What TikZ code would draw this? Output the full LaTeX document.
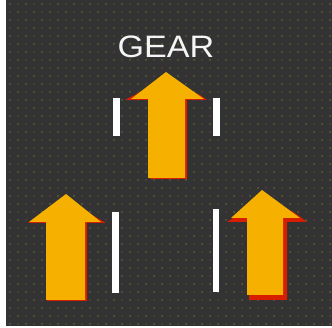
\documentclass[tikz,border=0pt]{standalone}
\usepackage{fontspec}
\setmainfont{Liberation Sans}
\definecolor{bg}{HTML}{333333}
\definecolor{dotY}{HTML}{62623A}
\definecolor{dotR}{HTML}{623C3C}
\definecolor{arrowfill}{HTML}{F5B000}
\definecolor{shadowred}{HTML}{D81E00}
\begin{document}
\begin{tikzpicture}[x=1pt,y=-1pt,
  bar/.style={fill=white,draw=none},
  arrowshape/.style={fill=arrowfill,draw=none},
  shadowshape/.style={fill=shadowred,draw=none}]
\useasboundingbox (0,0) rectangle (332,328);
\fill[white] (0,0) rectangle (332,328);
\fill[bg] (6,0) rectangle (332,326);
% dot pattern
\foreach \i in {0,...,40}{
  \foreach \j in {0,...,40}{
    \pgfmathsetmacro{\xx}{10+\i*8}
    \pgfmathsetmacro{\yy}{4+\j*8}
    \pgfmathtruncatemacro{\myparity}{mod(\i+\j,2)}
    \ifnum\myparity=0
      \fill[dotY] (\xx,\yy) circle (1);
    \else
      \fill[dotR] (\xx,\yy) circle (1);
    \fi
  }
}
% title
\node[text=white!92!gray,font=\fontsize{31}{31}\selectfont,xscale=1.1] (title) at (166,47) {GEAR};
% top arrow
\path[shadowshape] (166,80) -- (200,95) -- (207,100) -- (187,100) -- (187,179) -- (150,179) -- (150,100) -- (125,100) -- (140,92) -- cycle;
\path[arrowshape] (166,72) -- (204,99) -- (185,99) -- (185,178) -- (148,178) -- (148,99) -- (131,99) -- cycle;
\path[bar] (113,98) rectangle (120,136);
\path[bar] (213,98) rectangle (220,136);
% bottom-left arrow
\path[shadowshape] (66,200) -- (106,223) -- (87,223) -- (87,301) -- (47,301) -- (47,223) -- (28,223) -- (40,214) -- cycle;
\path[arrowshape] (66,194) -- (101,222) -- (85,222) -- (85,300) -- (46,300) -- (46,222) -- (29,222) -- cycle;
\path[bar] (112,212) rectangle (119,293);
% bottom-right arrow
\path[shadowshape] (262,196) -- (295,213) -- (307,222) -- (287,222) -- (287,300) -- (249,300) -- (249,222) -- (227,222) -- (236,216) -- cycle;
\path[arrowshape] (262,190) -- (300,218) -- (283,218) -- (283,295) -- (247,295) -- (247,218) -- (231,218) -- cycle;
\path[bar] (213,209) rectangle (219,292);
\end{tikzpicture}
\end{document}
